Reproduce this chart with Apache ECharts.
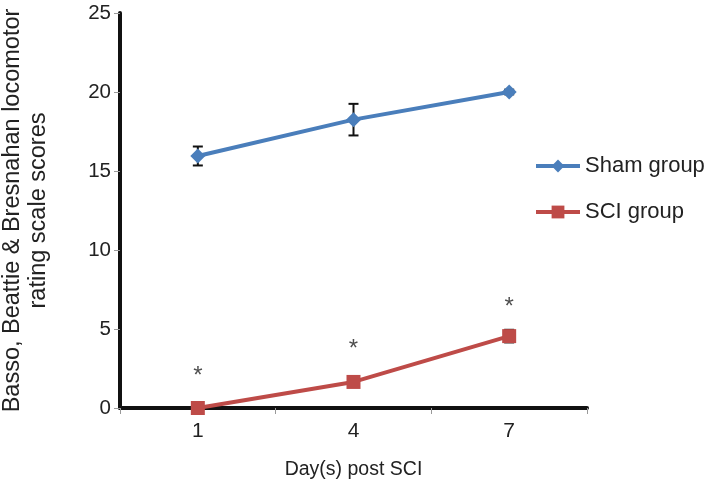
<!DOCTYPE html>
<html><head><meta charset="utf-8">
<script src="https://cdn.jsdelivr.net/npm/echarts@6/dist/echarts.min.js"></script>
<style>html,body{margin:0;padding:0;background:#fff}#c{width:711px;height:502px}</style>
</head><body><div id="c"></div>
<script>
var categories = ['1', '4', '7'];
var shamMean = [15.95, 18.25, 20.0];
var shamErr = [0.6, 1.0, 0.15];
var sciMean = [0.0, 1.65, 4.55];
var sciErr = [0.15, 0.15, 0.4];
var starY = [2.0, 3.7, 6.4];
var yTicks = [0, 5, 10, 15, 20, 25];

var chart = echarts.init(document.getElementById('c'));
var FONT = 'Liberation Sans, Arial, sans-serif';

function errData(mean, err) {
  return mean.map(function (m, i) { return [i, m - err[i], m + err[i]]; });
}
function errRender(params, api) {
  var x = api.value(0);
  var lo = api.coord([x, api.value(1)]);
  var hi = api.coord([x, api.value(2)]);
  var w = 5;
  var st = { stroke: '#111', lineWidth: 2 };
  return { type: 'group', children: [
    { type: 'line', shape: { x1: lo[0], y1: lo[1], x2: hi[0], y2: hi[1] }, style: st },
    { type: 'line', shape: { x1: lo[0] - w, y1: lo[1], x2: lo[0] + w, y2: lo[1] }, style: st },
    { type: 'line', shape: { x1: hi[0] - w, y1: hi[1], x2: hi[0] + w, y2: hi[1] }, style: st }
  ]};
}

chart.setOption({
  animation: false,
  backgroundColor: '#fff',
  grid: { left: 120, right: 124, top: 13, bottom: 94, containLabel: false, outerBoundsMode: 'none' },
  legend: {
    orient: 'vertical', left: 529, top: 150, itemGap: 24,
    itemWidth: 44, itemHeight: 16,
    lineStyle: { width: 4 },
    textStyle: { fontFamily: FONT, fontSize: 22, color: '#222' },
    data: ['Sham group', 'SCI group']
  },
  xAxis: {
    type: 'category', data: categories, boundaryGap: true,
    name: 'Day(s) post SCI', nameLocation: 'middle', nameGap: 52,
    nameTextStyle: { fontFamily: FONT, fontSize: 19.5, color: '#222' },
    axisLine: { lineStyle: { color: '#111', width: 4 } },
    axisTick: { show: true, alignWithLabel: false, length: 6, lineStyle: { color: '#999', width: 1 } },
    axisLabel: { fontFamily: FONT, fontSize: 21, color: '#222', margin: 13 },
    splitLine: { show: false }
  },
  yAxis: {
    type: 'value', min: 0, max: 25, interval: 5,
    name: 'Basso, Beattie & Bresnahan locomotor\nrating scale scores',
    nameLocation: 'middle', nameGap: 68, nameRotate: 90,
    nameTextStyle: { fontFamily: FONT, fontSize: 23.5, color: '#222', lineHeight: 26 },
    axisLine: { show: true, lineStyle: { color: '#111', width: 4 } },
    axisTick: { show: true, length: 6, lineStyle: { color: '#999', width: 1 } },
    axisLabel: { fontFamily: FONT, fontSize: 20.5, color: '#222', margin: 9,
      formatter: function (v) { return yTicks.indexOf(v) >= 0 ? String(v) : ''; } },
    splitLine: { show: false }
  },
  series: [
    { name: 'Sham group', type: 'line', data: shamMean, symbol: 'diamond', symbolSize: 15,
      itemStyle: { color: '#4a7ebb' }, lineStyle: { width: 4, color: '#4a7ebb' }, z: 3 },
    { name: 'SCI group', type: 'line', data: sciMean, symbol: 'rect', symbolSize: 14,
      itemStyle: { color: '#be4b48' }, lineStyle: { width: 4, color: '#be4b48' }, z: 3 },
    { type: 'custom', renderItem: errRender, data: errData(shamMean, shamErr), z: 2, silent: true },
    { type: 'custom', renderItem: errRender, data: errData(sciMean, sciErr), z: 2, silent: true },
    { type: 'scatter', data: starY.map(function (v, i) { return [i, v]; }), symbolSize: 1,
      itemStyle: { color: 'rgba(0,0,0,0)' },
      label: { show: true, position: 'inside', formatter: '*', fontFamily: FONT, fontSize: 24, color: '#222' },
      silent: true }
  ]
});
</script></body></html>
